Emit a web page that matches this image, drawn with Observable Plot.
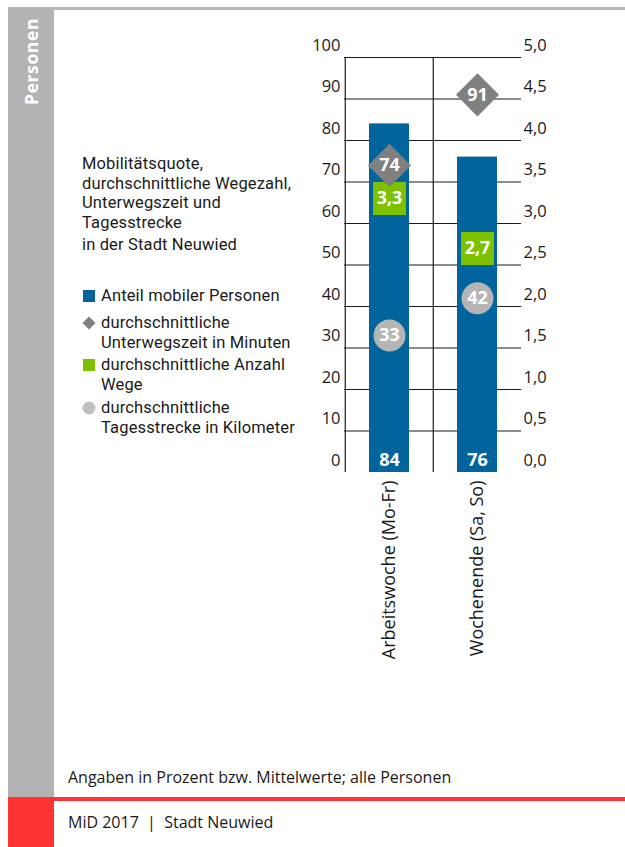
<!DOCTYPE html>
<html><head><meta charset="utf-8">
<script src="https://cdn.jsdelivr.net/npm/d3@7"></script>
<script src="https://cdn.jsdelivr.net/npm/@observablehq/plot@0.6"></script>
<style>
html,body{margin:0;padding:0;background:#fff;}
#page{position:relative;width:625px;height:847px;overflow:hidden;font-family:"Open Sans",sans-serif;color:#1a1a1a;background:#fff;}
.abs{position:absolute;}
.ln{position:absolute;white-space:nowrap;font-size:16px;line-height:19.5px;}
.leg{font-family:Roboto,"Open Sans",sans-serif;font-size:16.5px;letter-spacing:0.15px;}
#chart{position:absolute;left:0;top:0;}
</style></head><body>
<div id="page">
  <div class="abs" style="left:8px;top:7px;right:0;height:2.5px;background:#b5b5b5"></div>
  <div class="abs" style="left:8px;top:9px;width:46px;height:788px;background:#b3b3b3"></div>
  <svg class="abs" style="left:8px;top:9px" width="46" height="110">
    <text transform="translate(23,9) rotate(-90)" text-anchor="end" dominant-baseline="central" fill="#fff" font-weight="bold" font-size="17.5" font-family="'Open Sans',sans-serif" letter-spacing="0.6">Personen</text>
  </svg>
  <div class="abs" style="left:8px;top:797px;width:46px;height:50px;background:#ff3333"></div>
  <div class="abs" style="left:54px;top:797px;right:0;height:3.5px;background:#ff3333"></div>
  <div id="chart"></div>
  <div id="legend"></div>
  <div class="ln" style="left:68px;top:768px">Angaben in Prozent bzw. Mittelwerte; alle Personen</div>
  <div class="ln" style="left:68px;top:813px">MiD 2017 &nbsp;|&nbsp; Stadt Neuwied</div>
</div>
<script>
// ---- data ----
const categories = ["Arbeitswoche (Mo-Fr)", "Wochenende (Sa, So)"];
const mobileShare = [84, 76];          // Anteil mobiler Personen (%)
const travelTime = [74, 91];           // durchschnittliche Unterwegszeit (Minuten)
const trips = [3.3, 2.7];              // durchschnittliche Anzahl Wege
const distance = [33, 42];             // durchschnittliche Tagesstrecke (km)
const leftTicks = [0, 10, 20, 30, 40, 50, 60, 70, 80, 90, 100];
const rightTicks = [0, 0.5, 1, 1.5, 2, 2.5, 3, 3.5, 4, 4.5, 5];
const titleLines = ["Mobilitätsquote,", "durchschnittliche Wegezahl,", "Unterwegszeit und", "Tagesstrecke"];
const subtitle = "in der Stadt Neuwied";
const legendItems = [
  {key: "share", lines: ["Anteil mobiler Personen"]},
  {key: "time", lines: ["durchschnittliche", "Unterwegszeit in Minuten"]},
  {key: "trips", lines: ["durchschnittliche Anzahl", "Wege"]},
  {key: "distance", lines: ["durchschnittliche", "Tagesstrecke in Kilometer"]}
];

const colors = {share: "#02649c", time: "#808080", trips: "#7dc100", distance: "#b5b5b5"};
const rightMax = 5, leftMax = 100, k = leftMax / rightMax;
const fmt = v => v.toFixed(1).replace(".", ",");

const table = categories.map((c, i) => ({
  category: c, share: mobileShare[i], time: travelTime[i], trips: trips[i], distance: distance[i]
}));

const W = 625, H = 680, mL = 344, mR = 104, mT = 57, mB = 208;
const halfBand = (W - mL - mR) / categories.length / 2;
const font = "'Open Sans', sans-serif";
const lbl = {fill: "white", fontWeight: "bold", fontSize: 18, fontFamily: font};

const chart = Plot.plot({
  width: W, height: H, marginLeft: mL, marginRight: mR, marginTop: mT, marginBottom: mB,
  style: {fontFamily: font, fontSize: "16px", color: "#1a1a1a", background: "transparent", overflow: "visible"},
  x: {domain: categories, padding: 0, label: null},
  y: {domain: [0, leftMax], label: null},
  marks: [
    Plot.ruleY(leftTicks.slice(1), {stroke: "#1a1a1a", strokeWidth: 1.2}),
    Plot.ruleX(categories, {x: d => d, dx: -halfBand, stroke: "#1a1a1a", strokeWidth: 1.2}),
    Plot.barY(table, {x: "category", y: "share", fill: colors.share, insetLeft: 24, insetRight: 24}),
    Plot.text(table, {x: "category", y: 0, text: d => String(d.share), dy: -12, ...lbl}),
    Plot.dot(table, {x: "category", y: "distance", r: 16, fill: colors.distance}),
    Plot.text(table, {x: "category", y: "distance", text: d => String(d.distance), ...lbl}),
    Plot.dot(table, {x: "category", y: d => d.trips * k, symbol: "square", r: 18.6, fill: colors.trips}),
    Plot.text(table, {x: "category", y: d => d.trips * k, text: d => fmt(d.trips), ...lbl}),
    Plot.dot(table, {x: "category", y: "time", symbol: "diamond2", r: 19.4, fill: colors.time}),
    Plot.text(table, {x: "category", y: "time", text: d => String(d.time), ...lbl}),
    Plot.axisY({anchor: "left", ticks: leftTicks, tickSize: 0, tickPadding: 4, dy: -12, label: null, fontSize: 16.5}),
    Plot.axisY({anchor: "right", ticks: rightTicks.map(v => v * k), tickFormat: d => fmt(d / k), tickSize: 0, tickPadding: 2, dy: -12, label: null, fontSize: 16.5}),
    Plot.axisX({anchor: "bottom", tickRotate: -90, tickSize: 0, tickPadding: 8, label: null, fontSize: 18})
  ]
});
document.getElementById("chart").append(chart);

// ---- legend (HTML) ----
const leg = document.getElementById("legend");
function block(lines, x, firstCy) {
  const d = document.createElement("div");
  d.className = "ln leg";
  lines.forEach((t, i) => {
    if (i) d.append(document.createElement("br"));
    d.append(document.createTextNode(t));
  });
  d.style.left = x + "px"; d.style.top = (firstCy - 9.75) + "px";
  leg.append(d);
}
block(titleLines, 82, 164);
block([subtitle], 82, 245);

const itemY = [296, 323, 365, 408];
legendItems.forEach((it, i) => {
  block(it.lines, 101, itemY[i]);
  const cy = itemY[i];
  const s = document.createElementNS("http://www.w3.org/2000/svg", "svg");
  s.setAttribute("width", 16); s.setAttribute("height", 16);
  s.style.position = "absolute"; s.style.left = "81px"; s.style.top = (cy - 8) + "px";
  let shape;
  if (it.key === "share" || it.key === "trips") {
    shape = `<rect x="2" y="2" width="12" height="12" fill="${colors[it.key]}"/>`;
  } else if (it.key === "time") {
    shape = `<path d="M8,1.5L14.5,8L8,14.5L1.5,8Z" fill="${colors.time}"/>`;
  } else {
    shape = `<circle cx="8" cy="8" r="6.5" fill="#c0c0c0"/>`;
  }
  s.innerHTML = shape;
  leg.append(s);
});
</script>
</body></html>
